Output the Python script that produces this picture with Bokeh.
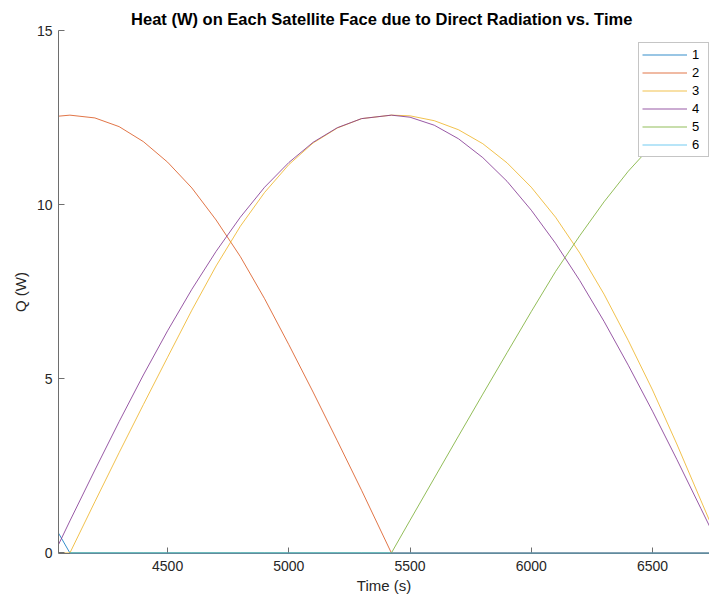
from bokeh.plotting import figure
from bokeh.models import Range1d, FixedTicker, Legend, LegendItem
from bokeh.embed import file_html
from bokeh.resources import INLINE

nan = float("nan")

# Time (s)
time_s = [4050, 4097, 4200, 4300, 4400, 4500, 4600, 4700, 4800, 4900, 5000,
          5100, 5200, 5300, 5423, 5500, 5600, 5700, 5800, 5900, 6000, 6100,
          6200, 6300, 6400, 6500, 6600, 6700, 6735]

# Heat on each face (W)
face1 = [0.57, 0, 0, 0, 0, 0, 0, 0, 0, 0, 0, 0, 0, 0, 0, 0, 0, 0, 0, 0, 0, 0,
         0, 0, 0, 0, 0, 0, 0]
face2 = [12.54, 12.57, 12.49, 12.24, 11.81, 11.22, 10.48, 9.56, 8.51, 7.30,
         5.98, 4.62, 3.22, 1.80, 0, 0, 0, 0, 0, 0, 0, 0, 0, 0, 0, 0, 0, 0, 0]
face3 = [0, 0, 1.47, 2.88, 4.26, 5.62, 6.97, 8.24, 9.38, 10.35, 11.15, 11.77,
         12.20, 12.47, 12.57, 12.55, 12.41, 12.15, 11.75, 11.20, 10.50, 9.64,
         8.61, 7.43, 6.10, 4.68, 3.13, 1.50, 0.93]
face4 = [0.24, 0.92, 2.38, 3.77, 5.11, 6.38, 7.57, 8.66, 9.64, 10.50, 11.21,
         11.79, 12.21, 12.47, 12.57, 12.51, 12.28, 11.89, 11.35, 10.67, 9.84,
         8.89, 7.82, 6.65, 5.39, 4.07, 2.69, 1.27, 0.77]
face5 = [nan, 0, 0, 0, 0, 0, 0, 0, 0, 0, 0, 0, 0, 0, 0, 0.94, 2.15, 3.36,
         4.56, 5.75, 6.93, 8.08, 9.11, 10.08, 10.96, 11.72, 12.26, 12.51, 12.55]
face6 = [nan, 0, 0, 0, 0, 0, 0, 0, 0, 0, 0, 0, 0, 0, 0, 0, 0, 0, 0, 0, 0, 0,
         0, 0, 0, 0, 0, 0, 0]

labels = ["1", "2", "3", "4", "5", "6"]
colors = ["#0072BD", "#D95319", "#EDB120", "#7E2F8E", "#77AC30", "#4DBEEE"]
x_ticks = [4500, 5000, 5500, 6000, 6500]
y_ticks = [0, 5, 10, 15]

FONT = "Liberation Sans"

p = figure(width=709, height=601, output_backend="svg", toolbar_location=None,
           x_range=Range1d(4050, 6735), y_range=Range1d(-0.015, 15),
           min_border_left=58, min_border_right=0, min_border_top=30,
           min_border_bottom=48,
           title="Heat (W) on Each Satellite Face due to Direct Radiation  vs. Time")

p.title.align = "center"
p.title.text_font = FONT
p.title.text_font_size = "16.5px"
p.title.text_font_style = "bold"
p.title.text_color = "#000000"
p.title.standoff = 6

p.grid.grid_line_color = None
p.outline_line_color = None
p.background_fill_color = "white"
p.border_fill_color = "white"

for ax in (p.xaxis[0], p.yaxis[0]):
    ax.axis_line_color = "#6e6e6e"
    ax.major_tick_line_color = "#6e6e6e"
    ax.major_tick_in = 6
    ax.major_tick_out = 0
    ax.minor_tick_line_color = None
    ax.major_label_text_font = FONT
    ax.major_label_text_font_size = "14px"
    ax.major_label_text_color = "#262626"
    ax.axis_label_text_font = FONT
    ax.axis_label_text_font_size = "15px"
    ax.axis_label_text_font_style = "normal"
    ax.axis_label_text_color = "#262626"

p.xaxis[0].major_label_standoff = 7
p.xaxis[0].axis_label_standoff = 3
p.yaxis[0].major_label_standoff = 6
p.yaxis[0].axis_label_standoff = 5

p.xaxis[0].ticker = FixedTicker(ticks=x_ticks)
p.yaxis[0].ticker = FixedTicker(ticks=y_ticks)
p.xaxis[0].axis_label = "Time (s)"
p.yaxis[0].axis_label = "Q (W)"

series = [face1, face2, face3, face4, face5, face6]
renderers = []
for vals, c in zip(series, colors):
    r = p.line(time_s, vals, line_color=c, line_width=1, line_alpha=0.8)
    renderers.append(r)
renderers[5].level = "overlay"

legend = Legend(items=[LegendItem(label=l, renderers=[r]) for l, r in zip(labels, renderers)],
                location=(580, 396), margin=0, padding=3, spacing=1,
                glyph_width=45, glyph_height=17, label_height=17, label_width=13,
                label_standoff=5, label_text_font=FONT, label_text_font_size="13px",
                label_text_color="#000000", border_line_color="#8c8c8c",
                border_line_width=1, background_fill_color="white",
                background_fill_alpha=1.0)
p.add_layout(legend)

open("out.html", "w").write(file_html(p, INLINE))
